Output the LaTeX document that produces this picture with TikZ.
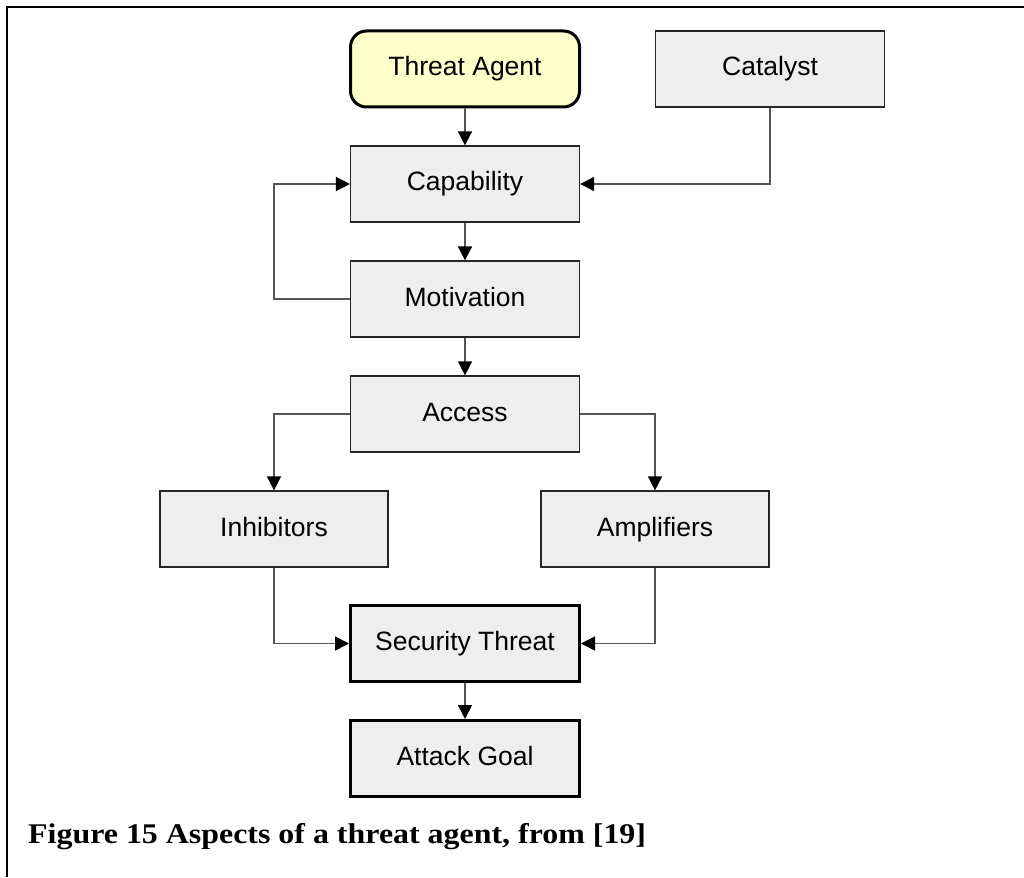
\documentclass[tikz,border=0pt]{standalone}
\usepackage{fontspec}
\setmainfont{Liberation Sans}
\newfontfamily\capfont{Liberation Serif}
\usetikzlibrary{arrows.meta}
\definecolor{boxfill}{HTML}{EEEEEE}
\definecolor{agentfill}{HTML}{FFFFCC}
\definecolor{linegray}{HTML}{555555}
\tikzset{
  box/.style={draw=black!85, line width=1.2pt, fill=boxfill,
    minimum width=229pt, minimum height=76pt, inner sep=0pt,
    text height=19pt, text depth=5pt,
    font=\fontsize{26.5}{30}\selectfont},
  heavybox/.style={box, draw=black, line width=3pt},
  agentbox/.style={box, draw=black, line width=3pt, fill=agentfill,
    rounded corners=16pt},
  conn/.style={draw=linegray, line width=1.5pt,
    -{Triangle[length=14pt,width=14pt,color=black]}},
}
\begin{document}
\begin{tikzpicture}[x=1pt, y=-1pt]
  \useasboundingbox (0,0) rectangle (1024,877);
  % partial frame
  \draw[line width=2.2pt] (7,877) -- (7,7) -- (1024,7);

  % nodes
  \node[agentbox] (agent) at (465,69) {Threat Agent};
  \node[box] (cat) at (770,69) {Catalyst};
  \node[box] (cap) at (465,184) {Capability};
  \node[box] (mot) at (465,299) {Motivation};
  \node[box] (acc) at (465,414) {Access};
  \node[box, minimum width=228pt] (inh) at (274,529) {Inhibitors};
  \node[box, minimum width=228pt] (amp) at (655,529) {Amplifiers};
  \node[heavybox] (sec) at (465,643.5) {Security Threat};
  \node[heavybox] (goal) at (465,758.5) {Attack Goal};

  % connectors
  \draw[conn] (agent) -- (cap);
  \draw[conn] (cat.south) |- (cap.east);
  \draw[conn] (cap) -- (mot);
  \draw[conn] (mot.west) -- (mot.west -| inh.north) |- (cap.west);
  \draw[conn] (mot) -- (acc);
  \draw[conn] (acc.west) -| (inh.north);
  \draw[conn] (acc.east) -| (amp.north);
  \draw[conn] (inh.south) |- (sec.west);
  \draw[conn] (amp.south) |- (sec.east);
  \draw[conn] (sec) -- (goal);

  % caption
  \node[anchor=base west, inner sep=0pt] (caption) at (28,843)
    {\scalebox{1.12}[1]{\capfont\bfseries\fontsize{28.5}{32}\selectfont Figure 15 Aspects of a threat agent, from [19]}};
\end{tikzpicture}
\end{document}
